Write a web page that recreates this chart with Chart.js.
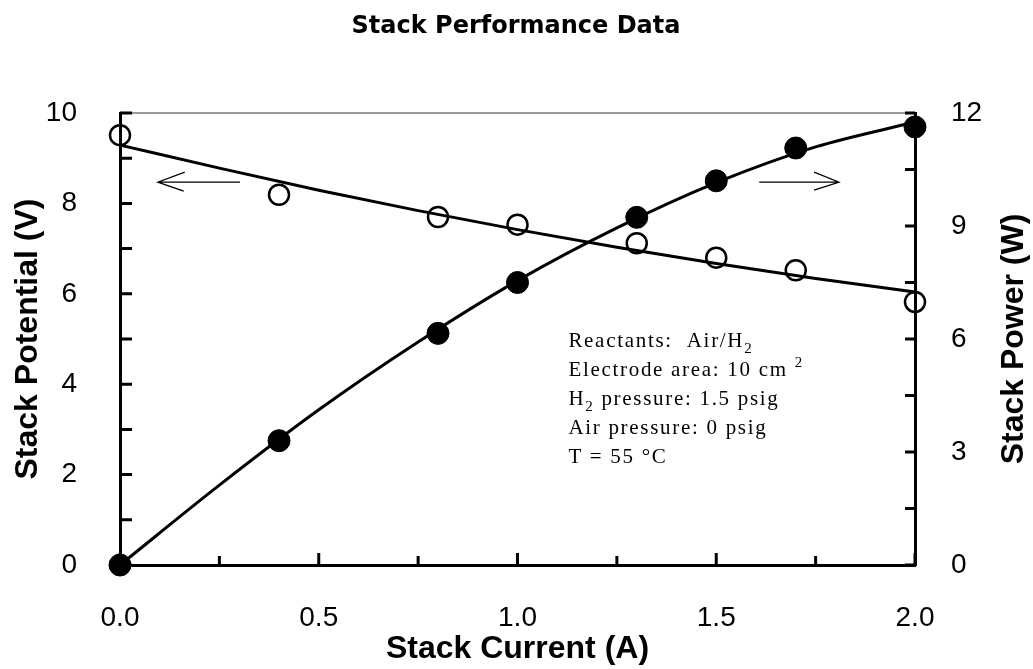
<!DOCTYPE html>
<html>
<head>
<meta charset="utf-8">
<script src="https://cdn.jsdelivr.net/npm/chart.js@4.4.1/dist/chart.umd.min.js"></script>
<style>
  html, body { margin: 0; padding: 0; background: #fff; }
  canvas { display: block; }
</style>
</head>
<body>
<canvas id="chart" width="1033" height="669"></canvas>
<script>
// measured points
const currentA = [0, 0.4, 0.8, 1.0, 1.3, 1.5, 1.7, 2.0];
const potentialV = [9.51, 8.19, 7.7, 7.53, 7.12, 6.8, 6.52, 5.82];
const powerW = [0, 3.3, 6.15, 7.5, 9.23, 10.2, 11.07, 11.63];

// fitted curves
const fitCurrentA = [0, 0.25, 0.5, 0.75, 1.0, 1.25, 1.5, 1.75, 2.0];
const fitPotentialV = [9.29, 8.78, 8.29, 7.84, 7.42, 7.03, 6.67, 6.34, 6.04];
const fitPowerW = [0, 2.12, 4.12, 5.92, 7.55, 8.95, 10.15, 11.1, 11.76];

const xTicks = [0, 0.5, 1.0, 1.5, 2.0];
const notes = [
  [["Reactants:  Air/H", 0], ["2", 1]],
  [["Electrode area: 10 cm ", 0], ["2", -1]],
  [["H", 0], ["2", 1], [" pressure: 1.5 psig", 0]],
  [["Air pressure: 0 psig", 0]],
  [["T = 55 °C", 0]],
];

const toXY = (xs, ys) => xs.map((x, i) => ({ x: x, y: ys[i] }));

const extras = {
  id: "extras",
  afterDraw(chart) {
    const ctx = chart.ctx;
    const a = chart.chartArea;
    const x = chart.scales.x;
    const y = chart.scales.y;
    const y2 = chart.scales.y2;
    ctx.save();

    // gray top border
    ctx.strokeStyle = "#9a9a9a";
    ctx.lineWidth = 2;
    ctx.beginPath();
    ctx.moveTo(a.left, a.top);
    ctx.lineTo(a.right, a.top);
    ctx.stroke();

    // inward ticks
    ctx.strokeStyle = "#000";
    ctx.lineWidth = 3;
    ctx.beginPath();
    for (let v = 0; v <= 2.001; v += 0.25) {
      const px = x.getPixelForValue(v);
      const len = Math.abs(v * 2 - Math.round(v * 2)) < 0.01 ? 12 : 9;
      ctx.moveTo(px, a.bottom);
      ctx.lineTo(px, a.bottom - len);
    }
    for (let v = 0; v <= 10; v += 1) {
      const py = y.getPixelForValue(v);
      ctx.moveTo(a.left, py);
      ctx.lineTo(a.left + 12, py);
    }
    for (let v = 0; v <= 12; v += 1.5) {
      const py = y2.getPixelForValue(v);
      ctx.moveTo(a.right, py);
      ctx.lineTo(a.right - 10, py);
    }
    ctx.stroke();

    // arrows
    ctx.lineWidth = 1.2;
    const ay = y.getPixelForValue(8.47);
    const l0 = x.getPixelForValue(0.095), l1 = x.getPixelForValue(0.302);
    const r0 = x.getPixelForValue(1.608), r1 = x.getPixelForValue(1.809);
    ctx.beginPath();
    ctx.moveTo(l1, ay); ctx.lineTo(l0, ay);
    ctx.moveTo(l0 + 27, ay - 10); ctx.lineTo(l0, ay); ctx.lineTo(l0 + 26, ay + 9);
    ctx.moveTo(r0, ay); ctx.lineTo(r1, ay);
    ctx.moveTo(r1 - 25, ay - 10); ctx.lineTo(r1, ay); ctx.lineTo(r1 - 25, ay + 8);
    ctx.stroke();

    // conditions text
    ctx.fillStyle = "#000";
    ctx.textBaseline = "alphabetic";
    ctx.textAlign = "left";
    const tx = x.getPixelForValue(1.128);
    const ty = y.getPixelForValue(4.82);
    notes.forEach((line, i) => {
      let cx = tx;
      const by = ty + i * 29;
      line.forEach(([s, k]) => {
        ctx.font = k === 0 ? "21px 'Liberation Serif'" : "15px 'Liberation Serif'";
        ctx.letterSpacing = "1.7px";
        const dy = k === 1 ? 6 : k === -1 ? -9 : 0;
        ctx.fillText(s, cx, by + dy);
        cx += ctx.measureText(s).width;
      });
    });
    ctx.letterSpacing = "0px";

    // right axis title, reads bottom to top
    ctx.font = "bold 32px 'Liberation Sans'";
    ctx.textAlign = "center";
    ctx.textBaseline = "middle";
    ctx.translate(1014, (a.top + a.bottom) / 2);
    ctx.rotate(-Math.PI / 2);
    ctx.fillText("Stack Power (W)", 0, 0);
    ctx.setTransform(1, 0, 0, 1, 0, 0);

    // chart title
    ctx.font = "bold 24px 'DejaVu Sans'";
    ctx.textBaseline = "alphabetic";
    ctx.fillText("Stack Performance Data", 516, 33);
    ctx.restore();
  },
};

new Chart(document.getElementById("chart"), {
  type: "scatter",
  data: {
    datasets: [
      {
        label: "Potential fit",
        data: toXY(fitCurrentA, fitPotentialV),
        yAxisID: "y",
        showLine: true,
        cubicInterpolationMode: "monotone",
        borderColor: "#000",
        borderWidth: 3,
        pointRadius: 0,
        clip: false,
      },
      {
        label: "Power fit",
        data: toXY(fitCurrentA, fitPowerW),
        yAxisID: "y2",
        showLine: true,
        cubicInterpolationMode: "monotone",
        borderColor: "#000",
        borderWidth: 3,
        pointRadius: 0,
        clip: false,
      },
      {
        label: "Stack Potential",
        data: toXY(currentA, potentialV),
        yAxisID: "y",
        pointRadius: 10,
        pointBorderWidth: 2.5,
        pointBorderColor: "#000",
        pointBackgroundColor: "rgba(0,0,0,0)",
        clip: false,
      },
      {
        label: "Stack Power",
        data: toXY(currentA, powerW),
        yAxisID: "y2",
        pointRadius: 11,
        pointBorderWidth: 1,
        pointBorderColor: "#000",
        pointBackgroundColor: "#000",
        clip: false,
      },
    ],
  },
  options: {
    responsive: false,
    animation: false,
    layout: { padding: { top: 113, left: 0, right: 0, bottom: 0 } },
    plugins: {
      legend: { display: false },
      tooltip: { enabled: false },
    },
    scales: {
      x: {
        type: "linear",
        min: 0,
        max: 2,
        afterFit: (s) => { s.height = 104; },
        afterBuildTicks: (s) => { s.ticks = xTicks.map((v) => ({ value: v })); },
        grid: { display: false },
        border: { display: true, color: "#000", width: 3 },
        ticks: {
          padding: 28,
          color: "#000",
          font: { family: "'Liberation Sans'", size: 28 },
          callback: (v) => v.toFixed(1),
        },
        title: {
          display: true,
          text: "Stack Current (A)",
          color: "#000",
          font: { family: "'Liberation Sans'", size: 32, weight: "bold" },
          padding: { top: 0, bottom: 1 },
        },
      },
      y: {
        position: "left",
        min: 0,
        max: 10,
        afterFit: (s) => { s.width = 120; },
        grid: { display: false },
        border: { display: true, color: "#000", width: 3 },
        ticks: {
          stepSize: 2,
          padding: 35,
          color: "#000",
          font: { family: "'Liberation Sans'", size: 28 },
        },
        title: {
          display: true,
          text: "Stack Potential (V)",
          color: "#000",
          font: { family: "'Liberation Sans'", size: 32, weight: "bold" },
          padding: { top: 9, bottom: 0 },
        },
      },
      y2: {
        position: "right",
        min: 0,
        max: 12,
        afterFit: (s) => { s.width = 118; },
        grid: { display: false },
        border: { display: true, color: "#000", width: 3 },
        ticks: {
          stepSize: 3,
          padding: 28,
          color: "#000",
          font: { family: "'Liberation Sans'", size: 28 },
        },
      },
    },
  },
  plugins: [extras],
});
</script>
</body>
</html>
